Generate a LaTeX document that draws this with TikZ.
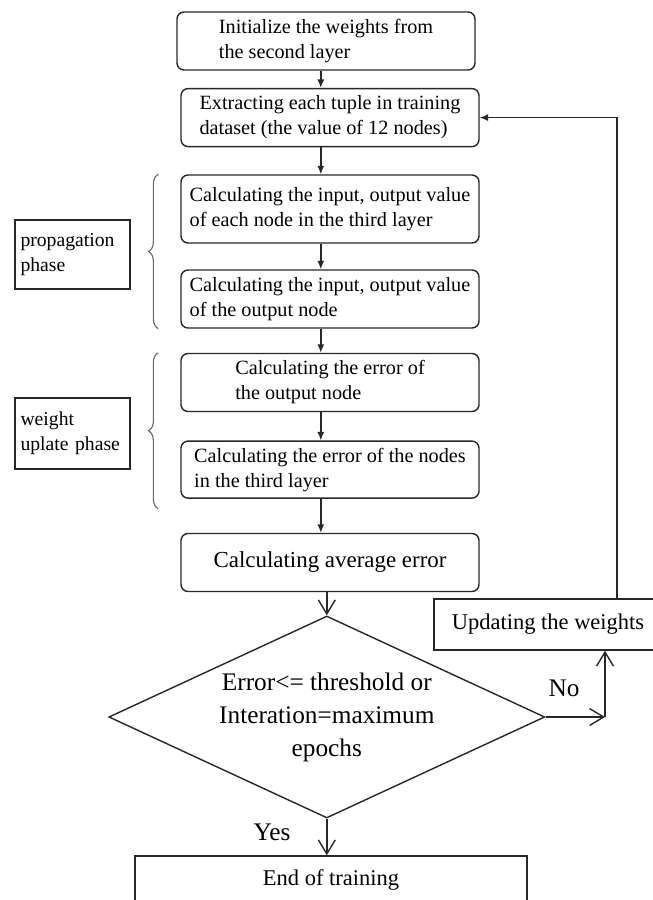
\documentclass[tikz,border=0pt]{standalone}
\usepackage{fontspec}
\setmainfont{Liberation Serif}
\usepackage{xcolor}
\usetikzlibrary{arrows.meta,shapes.geometric,decorations.pathreplacing}
\definecolor{linegray}{RGB}{40,40,40}

\begin{document}
\begin{tikzpicture}[
    flowbox/.style={draw=linegray, line width=1pt, rounded corners=5pt, minimum width=7.45cm, minimum height=1.45cm, align=left, font=\fontsize{14.4}{17.8}\selectfont},
    plainbox/.style={draw=linegray, line width=1pt, font=\fontsize{16}{20}\selectfont},
    phasebox/.style={draw=linegray, line width=0.8pt, minimum width=2.875cm, text width=2.6cm, inner xsep=0.1375cm, align=left, font=\fontsize{14}{17.8}\selectfont},
    decision/.style={draw=linegray, line width=1pt, shape=diamond, aspect=2.16, minimum width=10.9cm, minimum height=5.05cm, inner sep=0pt, align=center, font=\fontsize{18}{23.5}\selectfont},
    flow/.style={draw=linegray, line width=1pt, -{Latex[length=6pt,width=5pt]}},
    openflow/.style={draw=linegray, line width=1pt, -{Straight Barb[length=10pt,width=12pt]}},
    phasebrace/.style={draw=linegray!70, line width=0.8pt, decorate, decoration={brace, amplitude=7pt}}
]
    \useasboundingbox (0,0) rectangle (16.3,-22.5);

    % Training steps
    \node[flowbox] (b1) at (8.15,-1.025) {Initialize the weights from\\the second layer};
    \node[flowbox] (b2) at (8.25,-2.94) {Extracting each tuple in training\\dataset (the value of 12 nodes)};
    \node[flowbox, minimum height=1.7cm] (b3) at (8.25,-5.225) {Calculating the input, output value\\of each node in the third layer};
    \node[flowbox] (b4) at (8.25,-7.475) {Calculating the input, output value\\of the output node};
    \node[flowbox] (b5) at (8.25,-9.5625) {Calculating the error of\\the output node};
    \node[flowbox, minimum height=1.425cm] (b6) at (8.25,-11.74) {Calculating the error of the nodes\\in the third layer};
    \node[flowbox, font=\fontsize{16.3}{20}\selectfont] (b7) at (8.25,-14.0625) {Calculating average error};

    % Phases
    \node[phasebox, minimum height=1.725cm] (prop) at (1.8125,-6.3625) {propagation\\phase};
    \node[phasebox, minimum height=1.775cm] (wupd) at (1.8125,-10.8375) {weight\\uplate phase};
    \draw[phasebrace] ([xshift=-0.55cm]b4.south west) -- ([xshift=-0.55cm]b3.north west);
    \draw[phasebrace] ([xshift=-0.55cm,yshift=-0.25cm]b6.south west) -- ([xshift=-0.55cm]b5.north west);

    % Stopping test
    \node[decision] (dec) at (8.17,-17.925) {Error<= threshold or\\Interation=maximum\\epochs};
    \node[plainbox, minimum width=5.7cm, minimum height=1.275cm] (upd) at (13.7,-15.6125) {Updating the weights};
    \node[plainbox, minimum width=9.8cm, minimum height=1.2cm] (endb) at (8.275,-22.0) {End of training};
    \node[font=\fontsize{18}{22}\selectfont] (nolbl) at (14.1,-17.2) {No};
    \node[font=\fontsize{18}{22}\selectfont] (yeslbl) at (6.8,-20.8) {Yes};

    % Arrows
    \coordinate (axis) at (8.02,0);
    \draw[flow] (b1.south -| axis) -- (b2.north -| axis);
    \draw[flow] (b2.south -| axis) -- (b3.north -| axis);
    \draw[flow] (b3.south -| axis) -- (b4.north -| axis);
    \draw[flow] (b4.south -| axis) -- (b5.north -| axis);
    \draw[flow] (b5.south -| axis) -- (b6.north -| axis);
    \draw[flow] (b6.south -| axis) -- (b7.north -| axis);
    \draw[openflow] (b7.south -| dec.north) -- (dec.north);
    \draw[openflow] (dec.south) -- (dec.south |- endb.north);

    % Loop back
    \coordinate (nobend) at (15.125,-17.925);
    \coordinate (loopx) at (15.425,0);
    \draw[openflow] (dec.east) -- (nobend);
    \draw[openflow] (nobend) -- (nobend |- upd.south);
    \draw[flow] (upd.north -| loopx) |- (b2.east);
\end{tikzpicture}
\end{document}
